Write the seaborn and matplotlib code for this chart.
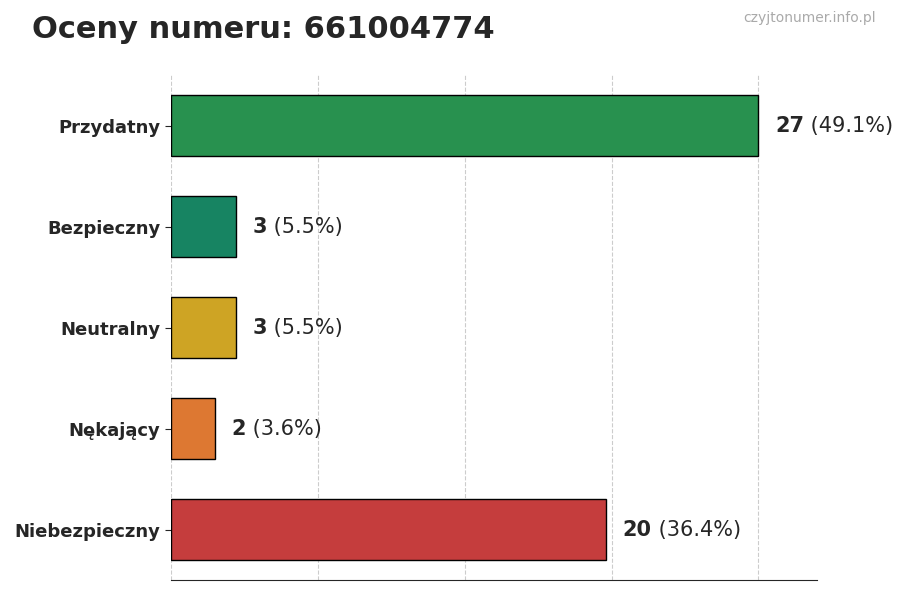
import matplotlib
matplotlib.use("Agg")
import matplotlib.pyplot as plt
import seaborn as sns
import pandas as pd

categories = ["Przydatny", "Bezpieczny", "Neutralny", "Nękający", "Niebezpieczny"]
counts = [27, 3, 3, 2, 20]
percents = ["49.1%", "5.5%", "5.5%", "3.6%", "36.4%"]
colors = ["#16a34a", "#059669", "#eab308", "#f97316", "#dc2626"]

df = pd.DataFrame({"cat": categories, "count": counts})

sns.set_style("white")
plt.rcParams['font.family'] = ['DejaVu Sans']
fig = plt.figure(figsize=(9, 6), dpi=100)
ax = fig.add_axes([0.19, 0.033, 0.718, 0.842])

sns.barplot(data=df, x="count", y="cat", hue="cat", palette=colors, legend=False,
            orient="h", width=0.6, edgecolor="black", linewidth=1, ax=ax)

mx = max(counts)
ax.set_xlim(0, mx * 1.1)
ax.set_xticks([mx * i / 4 for i in range(5)])
ax.set_xticklabels([])
ax.tick_params(axis="x", length=5)
ax.tick_params(axis="y", length=4, left=True)
ax.grid(axis="x", linestyle="--", color="#cccccc", linewidth=0.8)
ax.set_axisbelow(True)
for s in ["top", "right", "left"]:
    ax.spines[s].set_visible(False)
ax.set_xlabel("")
ax.set_ylabel("")
for lbl in ax.get_yticklabels():
    lbl.set_fontweight("bold")
    lbl.set_fontsize(13)

for i, (c, p) in enumerate(zip(counts, percents)):
    t = ax.annotate(f"{c}", (c, i), xytext=(12, 0), textcoords="offset points",
                    va="center", ha="left", fontsize=15, fontweight="bold")
    ax.annotate(f" ({p})", xy=(1, 0.5), xycoords=t, va="center", ha="left", fontsize=15)

fig.text(0.035, 0.95, "Oceny numeru: 661004774", fontsize=22, fontweight="bold", va="center")
fig.text(0.973, 0.97, "czyjtonumer.info.pl", fontsize=10, color="#aaaaaa", ha="right", va="center")

fig.savefig("out.png", dpi=100)
